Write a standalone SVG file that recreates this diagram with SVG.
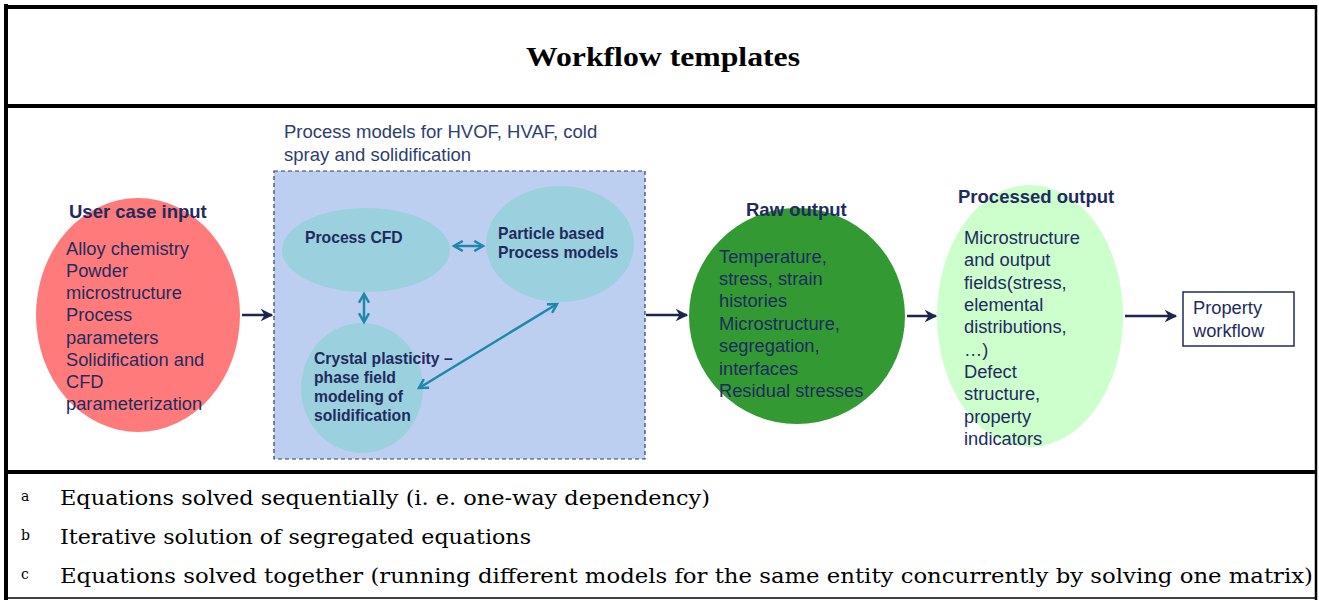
<svg xmlns="http://www.w3.org/2000/svg" width="1319" height="600" viewBox="0 0 1319 600">
  <style>
    .frame { stroke: #000; fill: none; }
    .title { font-family: "Liberation Serif", serif; font-weight: bold; font-size: 27px; fill: #000; }
    .note { font-family: "DejaVu Serif", "Liberation Serif", serif; font-size: 21px; fill: #000; }
    .sup { font-family: "DejaVu Serif", "Liberation Serif", serif; font-size: 14px; fill: #000; }
    .head { font-family: "Liberation Sans", Arial, sans-serif; font-weight: bold; font-size: 18.5px; fill: #1F2B5E; }
    .body { font-family: "Liberation Sans", Arial, sans-serif; font-size: 18.3px; fill: #1F2B5E; }
    .inner { font-family: "Liberation Sans", Arial, sans-serif; font-weight: bold; font-size: 15.7px; fill: #1F2B5E; }
    .cap { font-family: "Liberation Sans", Arial, sans-serif; font-size: 18.5px; fill: #2E3E6E; }
    .flow { stroke: #1A2550; stroke-width: 2.5; fill: none; }
    .link { stroke: #1E88A8; stroke-width: 2.5; fill: none; }
  </style>
  <defs>
    <marker id="navyHead" viewBox="0 0 10 10" refX="9" refY="5" markerWidth="5" markerHeight="5" orient="auto">
      <path d="M0,0 L10,5 L0,10 L3,5 Z" fill="#1A2550"/>
    </marker>
    <marker id="tealEnd" viewBox="0 0 10 10" refX="8" refY="5" markerWidth="5" markerHeight="5" orient="auto-start-reverse">
      <path d="M1,1 L8,5 L1,9" fill="none" stroke="#1E88A8" stroke-width="2"/>
    </marker>
  </defs>

  <!-- outer frame and table rules -->
  <g id="frame">
    <line class="frame" x1="6" y1="4" x2="6" y2="600" stroke-width="4"/>
    <line class="frame" x1="6" y1="7" x2="1316" y2="7" stroke-width="4"/>
    <line class="frame" x1="1316" y1="5" x2="1316" y2="600" stroke-width="2.5"/>
    <line class="frame" x1="6" y1="106" x2="1316" y2="106" stroke-width="4"/>
    <line class="frame" x1="6" y1="472" x2="1316" y2="472" stroke-width="4"/>
    <line class="frame" x1="6" y1="598" x2="1316" y2="598" stroke-width="1.5"/>
  </g>

  <g id="title">
    <text class="title" x="663" y="66" text-anchor="middle" textLength="274" lengthAdjust="spacingAndGlyphs">Workflow templates</text>
  </g>

  <!-- connectors -->
  <g id="connectors">
    <line class="flow" x1="242" y1="315" x2="272" y2="315" marker-end="url(#navyHead)"/>
    <line class="flow" x1="646" y1="315" x2="687" y2="315" marker-end="url(#navyHead)"/>
    <line class="flow" x1="907" y1="316" x2="936" y2="316" marker-end="url(#navyHead)"/>
    <line class="flow" x1="1125" y1="316" x2="1176" y2="316" stroke-width="5" marker-end="url(#navyHead)"/>
  </g>

  <g id="user-case-input">
    <ellipse cx="138" cy="315" rx="102" ry="117" fill="#FF7B7B"/>
    <text class="head" x="69" y="218">User case input</text>
    <text class="body" x="66" y="255">Alloy chemistry</text>
    <text class="body" x="66" y="277">Powder</text>
    <text class="body" x="66" y="299">microstructure</text>
    <text class="body" x="66" y="321">Process</text>
    <text class="body" x="66" y="344">parameters</text>
    <text class="body" x="66" y="366">Solidification and</text>
    <text class="body" x="66" y="388">CFD</text>
    <text class="body" x="66" y="410">parameterization</text>
  </g>

  <g id="process-models">
    <text class="cap" x="284" y="138">Process models for HVOF, HVAF, cold</text>
    <text class="cap" x="284" y="161">spray and solidification</text>
    <rect x="274" y="171" width="371" height="288" fill="#BDCFF1" stroke="#2E3E6E" stroke-width="1.2" stroke-dasharray="4,3"/>
  </g>

  <g id="process-cfd">
    <ellipse cx="366" cy="250" rx="84" ry="42" fill="#9BD0DE"/>
    <text class="inner" x="305" y="243">Process CFD</text>
  </g>

  <g id="particle-models">
    <ellipse cx="560" cy="244" rx="74" ry="58" fill="#9BD0DE"/>
    <text class="inner" x="498" y="239">Particle based</text>
    <text class="inner" x="498" y="258">Process models</text>
  </g>

  <g id="crystal-plasticity">
    <ellipse cx="362" cy="388" rx="61" ry="65" fill="#9BD0DE"/>
    <text class="inner" x="314" y="364">Crystal plasticity –</text>
    <text class="inner" x="314" y="383">phase field</text>
    <text class="inner" x="314" y="402">modeling of</text>
    <text class="inner" x="314" y="421">solidification</text>
  </g>

  <g id="coupling-links">
    <line class="link" x1="454" y1="246" x2="483" y2="246" marker-start="url(#tealEnd)" marker-end="url(#tealEnd)"/>
    <line class="link" x1="364" y1="294" x2="364" y2="322" marker-start="url(#tealEnd)" marker-end="url(#tealEnd)"/>
    <line class="link" x1="419" y1="388" x2="557" y2="304" marker-start="url(#tealEnd)" marker-end="url(#tealEnd)"/>
  </g>

  <g id="raw-output">
    <circle cx="797" cy="316" r="108" fill="#339933"/>
    <text class="head" x="746" y="216">Raw output</text>
    <text class="body" x="719" y="263">Temperature,</text>
    <text class="body" x="719" y="285">stress, strain</text>
    <text class="body" x="719" y="307">histories</text>
    <text class="body" x="719" y="330">Microstructure,</text>
    <text class="body" x="719" y="352">segregation,</text>
    <text class="body" x="719" y="375">interfaces</text>
    <text class="body" x="719" y="397">Residual stresses</text>
  </g>

  <g id="processed-output">
    <ellipse cx="1030" cy="316" rx="93" ry="131" fill="#CCFFCC"/>
    <text class="head" x="958" y="203">Processed output</text>
    <text class="body" x="964" y="244">Microstructure</text>
    <text class="body" x="964" y="266">and output</text>
    <text class="body" x="964" y="289">fields(stress,</text>
    <text class="body" x="964" y="311">elemental</text>
    <text class="body" x="964" y="333">distributions,</text>
    <text class="body" x="964" y="356">…)</text>
    <text class="body" x="964" y="378">Defect</text>
    <text class="body" x="964" y="400">structure,</text>
    <text class="body" x="964" y="423">property</text>
    <text class="body" x="964" y="445">indicators</text>
  </g>

  <g id="property-workflow">
    <rect x="1183" y="292" width="111" height="54" fill="#fff" stroke="#1F2B5E" stroke-width="1.5"/>
    <text class="body" x="1193" y="314">Property</text>
    <text class="body" x="1193" y="337">workflow</text>
  </g>

  <!-- footnotes -->
  <g id="notes">
    <text class="sup" x="21" y="501">a</text>
    <text class="note" x="60" y="505" textLength="650" lengthAdjust="spacingAndGlyphs">Equations solved sequentially (i. e. one-way dependency)</text>
    <text class="sup" x="21" y="540">b</text>
    <text class="note" x="60" y="544" textLength="471" lengthAdjust="spacingAndGlyphs">Iterative solution of segregated equations</text>
    <text class="sup" x="21" y="579">c</text>
    <text class="note" x="60" y="583" textLength="1253" lengthAdjust="spacingAndGlyphs">Equations solved together (running different models for the same entity concurrently by solving one matrix)</text>
  </g>
</svg>
